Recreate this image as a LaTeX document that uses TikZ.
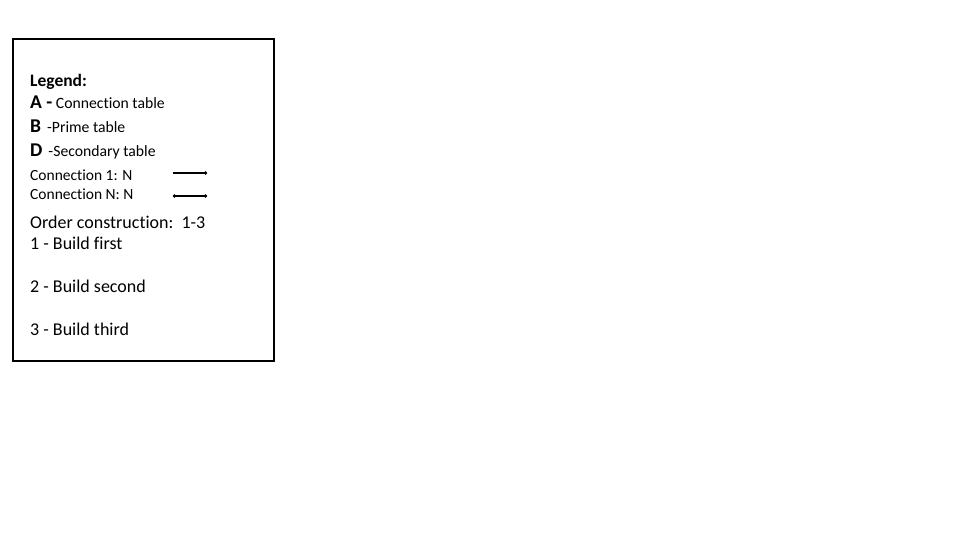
\documentclass[tikz,border=0pt]{standalone}
\usepackage{fontspec}
\setmainfont{Carlito}[Ligatures={NoCommon}]
\usetikzlibrary{arrows.meta}

\tikzset{
    txt/.style={anchor=base west, inner sep=0pt},
    link/.style={line width=1.4pt},
}

\begin{document}
\begin{tikzpicture}[x=1pt, y=-1pt]

    % Page
    \useasboundingbox (0,0) rectangle (960,540);

    % Legend frame
    \draw[line width=1.6pt] (13,39) rectangle (274,361);

    % Title
    \node[txt] (title) at (30,87) {\fontsize{17.5}{19}\selectfont\bfseries Legend:};

    % Tables
    \node[txt] (ta) at (30,109) {\fontsize{19.5}{21}\selectfont\bfseries A -\fontsize{15.7}{17}\selectfont\mdseries\ Connection table};
    \node[txt] (tb) at (30,133) {\fontsize{19.5}{21}\selectfont\bfseries B\hspace{6pt}\fontsize{15.7}{17}\selectfont\mdseries -Prime table};
    \node[txt] (td) at (30,157) {\fontsize{19.5}{21}\selectfont\bfseries D\hspace{6pt}\fontsize{15.7}{17}\selectfont\mdseries -Secondary table};

    % Connections
    \node[txt] (cone) at (30,181) {\fontsize{15.5}{17}\selectfont Connection 1: N};
    \node[txt] (cmany) at (30,200) {\fontsize{15.5}{17}\selectfont Connection N: N};
    \coordinate (oneS) at (173,173);
    \coordinate (oneE) at (207,173);
    \coordinate (manyS) at (173,196);
    \coordinate (manyE) at (207,196);
    \draw[link, -{Circle[length=3pt]}] (oneS) -- (oneE);
    \draw[link, {Circle[length=3pt]}-{Circle[length=3pt]}] (manyS) -- (manyE);

    % Order of construction
    \node[txt] (order) at (30,228) {\fontsize{18}{20}\selectfont Order construction:\ \ 1-3};
    \node[txt] (first) at (30,249) {\fontsize{18}{20}\selectfont 1 - Build first};
    \node[txt] (second) at (30,292) {\fontsize{18}{20}\selectfont 2 - Build second};
    \node[txt] (third) at (30,335) {\fontsize{18}{20}\selectfont 3 - Build third};

\end{tikzpicture}
\end{document}
